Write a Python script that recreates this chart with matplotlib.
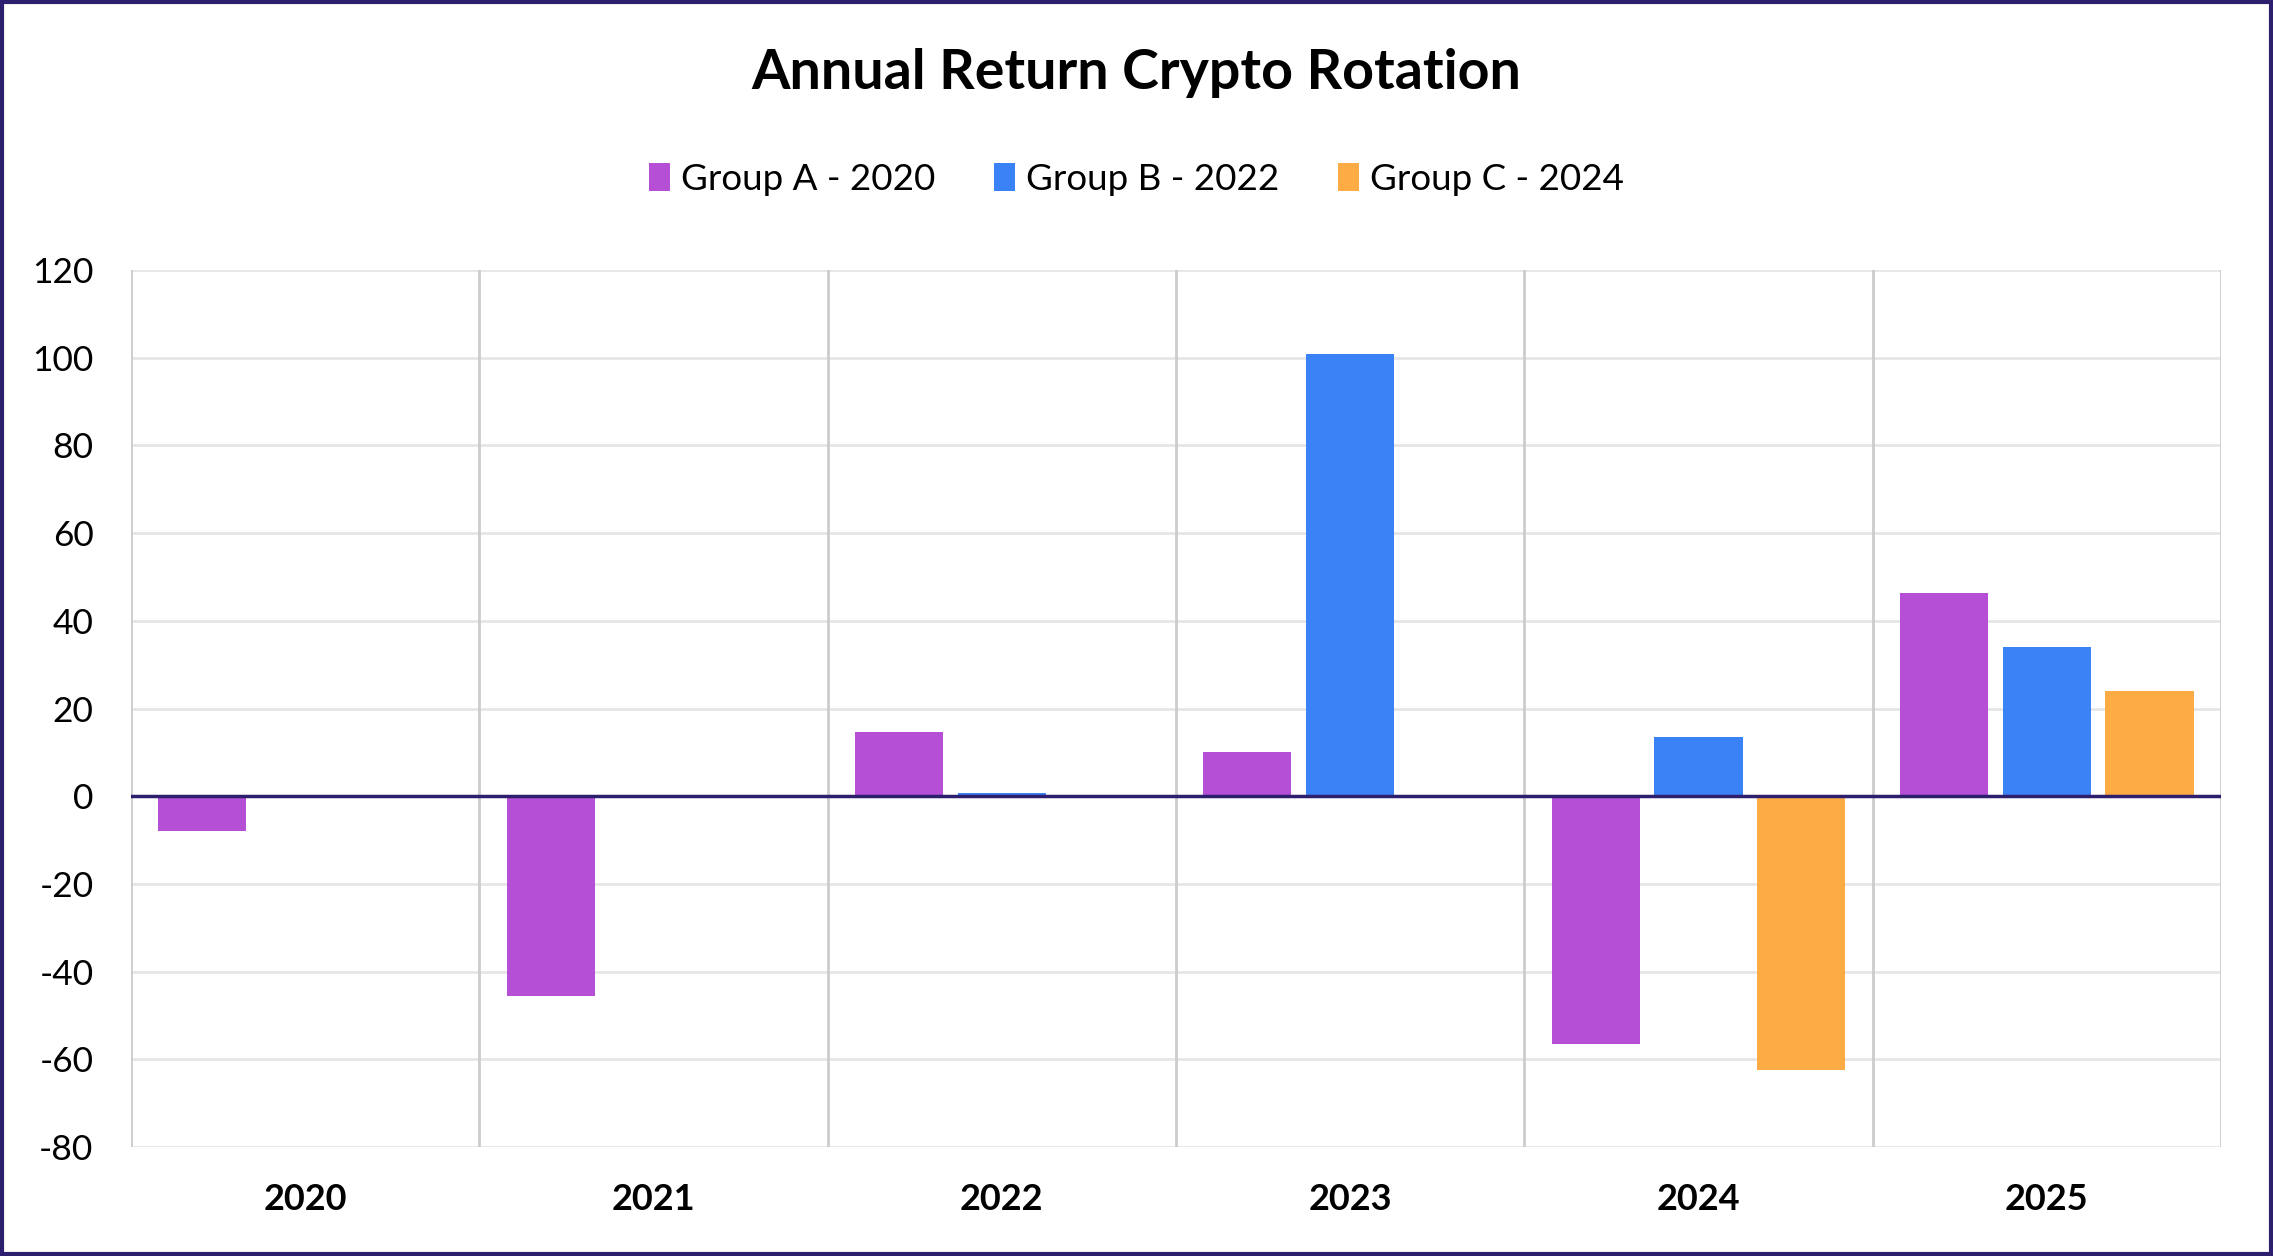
import matplotlib.pyplot as plt
import numpy as np
from matplotlib.patches import Rectangle

years = ["2020", "2021", "2022", "2023", "2024", "2025"]
group_names = ["Group A - 2020", "Group B - 2022", "Group C - 2024"]
group_a = [-8.0, -45.6, 14.6, 10.0, -56.5, 46.3]
group_b = [0, 0, 0.7, 100.8, 13.6, 34.0]
group_c = [0, 0, 0, 0, -62.4, 24.1]
colors = ["#B44FD6", "#3B82F6", "#FDAB44"]
navy = "#2E1F6E"

plt.rcParams['font.family'] = ['Lato', 'DejaVu Sans']
plt.rcParams['axes.unicode_minus'] = False

fig = plt.figure(figsize=(22.73, 12.56), dpi=100)
ax = fig.add_axes([0.0576, 0.0868, 0.9195, 0.6982])

x = np.arange(len(years))
w = 0.253
step = 0.295
for i, vals in enumerate([group_a, group_b, group_c]):
    v = np.array(vals)
    mask = v != 0
    ax.bar(x[mask] + (i - 1) * step, v[mask], width=w, color=colors[i],
           label=group_names[i], zorder=3)

ax.set_xlim(-0.5, 5.5)
ax.set_ylim(-80, 120)
ax.set_yticks(np.arange(-80, 121, 20))
ax.set_xticks(x)
ax.set_xticklabels(years, fontsize=26, fontweight='bold')
ax.tick_params(axis='y', labelsize=25.5, length=0, pad=27)
ax.tick_params(axis='x', length=0, pad=26)

for yv in np.arange(-80, 121, 20):
    ax.axhline(yv, color="#E6E6E6", lw=2, zorder=1)
for xv in np.arange(-0.5, 5.6, 1):
    ax.axvline(xv, color="#CCCCCC", lw=2, zorder=2)
ax.axhline(0, color=navy, lw=2.5, zorder=4)
for s in ax.spines.values():
    s.set_visible(False)

fig.text(0.5, 0.942, "Annual Return Crypto Rotation", ha='center', va='center',
         fontsize=40, fontweight='bold')
fig.legend(loc='center', bbox_to_anchor=(0.5, 0.857), ncol=3, frameon=False,
           fontsize=26.5, handlelength=0.57, handleheight=0.8, handletextpad=0.3,
           columnspacing=1.6)

fig.add_artist(Rectangle((0.001, 0.0015), 0.998, 0.997, transform=fig.transFigure,
                         fill=False, edgecolor=navy, lw=3))

fig.savefig("out.png", dpi=100, facecolor="white")
